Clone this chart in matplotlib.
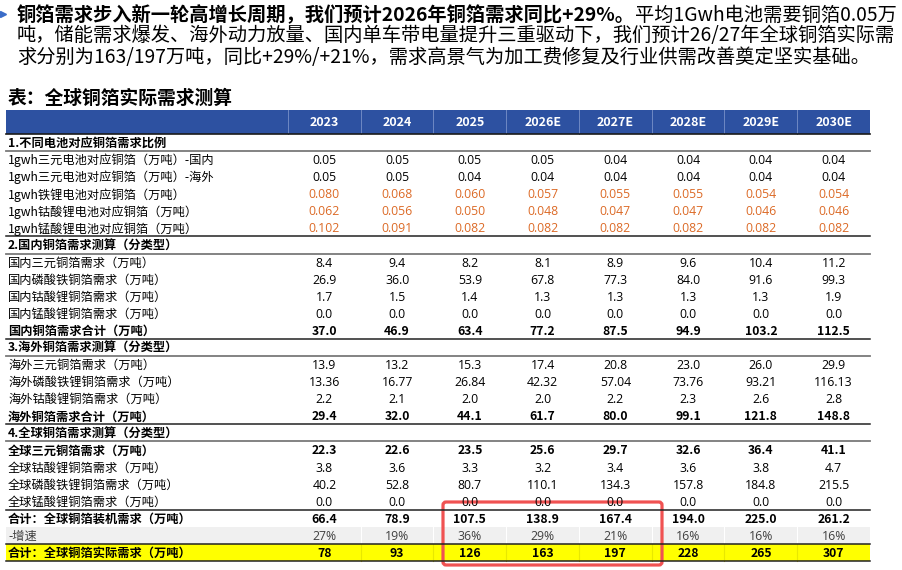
import matplotlib
matplotlib.use('Agg')
import matplotlib.pyplot as plt
from matplotlib.patches import Rectangle, FancyBboxPatch

plt.rcParams['font.family'] = ['Noto Sans', 'Noto Sans CJK SC', 'DejaVu Sans']

years = ['2023', '2024', '2025', '2026E', '2027E', '2028E', '2029E', '2030E']

sec1_title = '1.不同电池对应铜箔需求比例'
sec1_labels = ['1gwh三元电池对应铜箔（万吨）-国内', '1gwh三元电池对应铜箔（万吨）-海外',
               '1gwh铁锂电池对应铜箔（万吨）', '1gwh钴酸锂电池对应铜箔（万吨）',
               '1gwh锰酸锂电池对应铜箔（万吨）']
sec1_values = [[0.05, 0.05, 0.05, 0.05, 0.04, 0.04, 0.04, 0.04],
               [0.05, 0.05, 0.04, 0.04, 0.04, 0.04, 0.04, 0.04],
               [0.080, 0.068, 0.060, 0.057, 0.055, 0.055, 0.054, 0.054],
               [0.062, 0.056, 0.050, 0.048, 0.047, 0.047, 0.046, 0.046],
               [0.102, 0.091, 0.082, 0.082, 0.082, 0.082, 0.082, 0.082]]

sec2_title = '2.国内铜箔需求测算（分类型）'
sec2_labels = ['国内三元铜箔需求（万吨）', '国内磷酸铁铜箔需求（万吨）', '国内钴酸锂铜箔需求（万吨）',
               '国内锰酸锂铜箔需求（万吨）', '国内铜箔需求合计（万吨）']
sec2_values = [[8.4, 9.4, 8.2, 8.1, 8.9, 9.6, 10.4, 11.2],
               [26.9, 36.0, 53.9, 67.8, 77.3, 84.0, 91.6, 99.3],
               [1.7, 1.5, 1.4, 1.3, 1.3, 1.3, 1.3, 1.9],
               [0.0, 0.0, 0.0, 0.0, 0.0, 0.0, 0.0, 0.0],
               [37.0, 46.9, 63.4, 77.2, 87.5, 94.9, 103.2, 112.5]]

sec3_title = '3.海外铜箔需求测算（分类型）'
sec3_labels = ['海外三元铜箔需求（万吨）', '海外磷酸铁锂铜箔需求（万吨）', '海外钴酸锂铜箔需求（万吨）',
               '海外铜箔需求合计（万吨）']
sec3_values = [[13.9, 13.2, 15.3, 17.4, 20.8, 23.0, 26.0, 29.9],
               [13.36, 16.77, 26.84, 42.32, 57.04, 73.76, 93.21, 116.13],
               [2.2, 2.1, 2.0, 2.0, 2.2, 2.3, 2.6, 2.8],
               [29.4, 32.0, 44.1, 61.7, 80.0, 99.1, 121.8, 148.8]]

sec4_title = '4.全球铜箔需求测算（分类型）'
sec4_labels = ['全球三元铜箔需求（万吨）', '全球钴酸锂铜箔需求（万吨）', '全球磷酸铁锂铜箔需求（万吨）',
               '全球锰酸锂铜箔需求（万吨）']
sec4_values = [[22.3, 22.6, 23.5, 25.6, 29.7, 32.6, 36.4, 41.1],
               [3.8, 3.6, 3.3, 3.2, 3.4, 3.6, 3.8, 4.7],
               [40.2, 52.8, 80.7, 110.1, 134.3, 157.8, 184.8, 215.5],
               [0.0, 0.0, 0.0, 0.0, 0.0, 0.0, 0.0, 0.0]]

install_label = '合计：全球铜箔装机需求（万吨）'
install_values = [66.4, 78.9, 107.5, 138.9, 167.4, 194.0, 225.0, 261.2]
growth_label = '-增速'
growth_values = [27, 19, 36, 29, 21, 16, 16, 16]
actual_label = '合计：全球铜箔实际需求（万吨）'
actual_values = [78, 93, 126, 163, 197, 228, 265, 307]

para_bold = '铜箔需求步入新一轮高增长周期，我们预计2026年铜箔需求同比+29%。'
para_line1 = '平均1Gwh电池需要铜箔0.05万'
para_line2 = '吨，储能需求爆发、海外动力放量、国内单车带电量提升三重驱动下，我们预计26/27年全球铜箔实际需'
para_line3 = '求分别为163/197万吨，同比+29%/+21%，需求高景气为加工费修复及行业供需改善奠定坚实基础。'
table_title = '表：全球铜箔实际需求测算'

# ---- styling ----
BLUE = '#2D51A1'
ORANGE = '#DC6A26'
CJK = ['Noto Sans CJK SC', 'DejaVu Sans']
NUM = ['Open Sans', 'Noto Sans CJK SC', 'DejaVu Sans']

fig = plt.figure(figsize=(9.03, 5.70), dpi=100)
ax = fig.add_axes([0, 0, 1, 1])
ax.set_xlim(0, 903)
ax.set_ylim(570, 0)
ax.axis('off')
renderer = fig.canvas.get_renderer()


def fit_size(txt, size, width, **kw):
    t = ax.text(0, -100, txt, fontsize=size, **kw)
    w = t.get_window_extent(renderer).width
    t.remove()
    return size * width / w


# paragraph at top
psize = fit_size(para_line2, 13, 876, family=CJK)
t1 = ax.text(17, 15, para_bold, fontsize=psize, family=CJK, weight='bold', va='center')
bw = t1.get_window_extent(renderer).width
ax.text(17 + bw, 15, para_line1, fontsize=psize, family=CJK, va='center')
ax.text(17, 36, para_line2, fontsize=psize, family=CJK, va='center')
ax.text(17, 58, para_line3, fontsize=psize, family=CJK, va='center')
ax.plot([3.5], [14], marker='>', color='#3A6CC8', markersize=4)

ax.text(8, 98, table_title, fontsize=13.5, family=CJK, weight='bold', va='center')

# table geometry
left, label_right, right = 6, 288, 870
col_w = (right - label_right) / len(years)
centers = [label_right + col_w * (i + 0.5) for i in range(len(years))]
head_top, head_bot = 110, 134

ax.add_patch(Rectangle((left, head_top), right - left, head_bot - head_top, color=BLUE, lw=0))
for i in range(len(years)):
    x = label_right + col_w * i
    ax.plot([x, x], [head_top, head_bot], color='#6F88C4', lw=0.7)
for x, y in zip(centers, years):
    ax.text(x, 123, y, color='white', fontsize=9, weight='bold', ha='center', va='center',
            family=CJK)
ax.plot([left, right], [head_bot, head_bot], color='#1a1a1a', lw=1.2)

# build row list: (label, values, fmt, kind)
rows = [(sec1_title, None, None, 'section')]
fmts1 = ['{:.2f}', '{:.2f}', '{:.3f}', '{:.3f}', '{:.3f}']
for lab, vals, f in zip(sec1_labels, sec1_values, fmts1):
    rows.append((lab, vals, f, 'orange' if f == '{:.3f}' else 'normal'))
rows.append((sec2_title, None, None, 'section'))
for i, (lab, vals) in enumerate(zip(sec2_labels, sec2_values)):
    rows.append((lab, vals, '{:.1f}', 'bold' if i == len(sec2_labels) - 1 else 'normal'))
rows.append((sec3_title, None, None, 'section'))
for i, (lab, vals) in enumerate(zip(sec3_labels, sec3_values)):
    f = '{:.2f}' if i == 1 else '{:.1f}'
    rows.append((lab, vals, f, 'bold' if i == len(sec3_labels) - 1 else 'normal'))
rows.append((sec4_title, None, None, 'section'))
for i, (lab, vals) in enumerate(zip(sec4_labels, sec4_values)):
    rows.append((lab, vals, '{:.1f}', 'bold' if i == 0 else 'normal'))
rows.append((install_label, install_values, '{:.1f}', 'bold'))
rows.append((growth_label, growth_values, '{:d}%', 'growth'))
rows.append((actual_label, actual_values, '{:d}', 'actual'))

table_bot = 561
row_h = (table_bot - head_bot) / len(rows)
fs = 8.8

for r, (lab, vals, f, kind) in enumerate(rows):
    y0 = head_bot + r * row_h
    yc = y0 + row_h / 2 + 1
    if kind == 'growth':
        ax.add_patch(Rectangle((left, y0), right - left, row_h, color='#F0F0F0', lw=0))
    if kind == 'actual':
        ax.add_patch(Rectangle((left, y0), right - left, row_h, color='#FFFF00', lw=0))
    if kind in ('growth', 'actual'):
        for i in range(1, len(years)):
            x = label_right + col_w * i
            ax.plot([x, x], [y0, y0 + row_h], color='white' if kind == 'growth' else '#E8E800',
                    lw=0.8)
    bold = kind in ('section', 'bold', 'actual')
    lab_color = '#404040' if kind == 'growth' else 'black'
    ax.text(8, yc, lab, fontsize=fs, weight='bold' if bold else 'normal', color=lab_color,
            va='center', family=CJK)
    if vals is None:
        continue
    color = ORANGE if kind == 'orange' else ('#404040' if kind == 'growth' else 'black')
    for x, v in zip(centers, vals):
        ax.text(x, yc, f.format(v), fontsize=fs, ha='center', va='center', color=color,
                weight='bold' if bold else 'normal', family=CJK if bold else NUM)

# horizontal rules
grey_after = [0, 6, 12, 17]
dark_after = [5, 11, 16, 21, 23, 24]
for r in grey_after:
    y = head_bot + (r + 1) * row_h
    ax.plot([left, right], [y, y], color='#7a7a7a', lw=1.3)
for r in dark_after:
    y = head_bot + (r + 1) * row_h
    ax.plot([left, right], [y, y], color='#222222', lw=1.1)

# red highlight box around 2025-2027E totals
ax.add_patch(FancyBboxPatch((443, 502), 219, 63, boxstyle='round,pad=0,rounding_size=3',
                            fill=False, edgecolor='#F05252', lw=2.3))

fig.savefig('out.png', dpi=100)
